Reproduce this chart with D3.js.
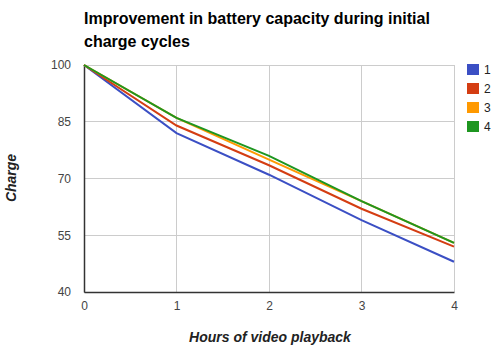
<!DOCTYPE html>
<html><head><meta charset="utf-8">
<script src="https://cdn.jsdelivr.net/npm/d3@7"></script>
<style>body{margin:0;background:#fff;}svg{display:block;font-family:"Liberation Sans",Arial,sans-serif;}</style>
</head><body><svg id="c" width="500" height="354"></svg>
<script>
const hours = [0, 1, 2, 3, 4];
const seriesNames = ["1", "2", "3", "4"];
const series1 = [100, 82, 71, 59, 48];
const series2 = [100, 84, 73.5, 62, 52];
const series3 = [100, 86, 75, 64, 53];
const series4 = [100, 86, 76, 64, 53];
const yTicks = [40, 55, 70, 85, 100];
const colors = ["#3b4fc4", "#d43d12", "#ff9900", "#1e9620"];

const svg = d3.select("#c");
const x = d3.scaleLinear().domain([0, 4]).range([84, 454]);
const y = d3.scaleLinear().domain([40, 100]).range([292, 65]);

// gridlines
svg.append("g").selectAll("line").data(yTicks).join("line")
  .attr("x1", 84).attr("x2", 454).attr("y1", d => y(d)).attr("y2", d => y(d))
  .attr("stroke", "#cccccc").attr("stroke-width", 1).attr("shape-rendering", "crispEdges");
svg.append("g").selectAll("line").data(hours).join("line")
  .attr("x1", d => x(d)).attr("x2", d => x(d)).attr("y1", 65).attr("y2", 292)
  .attr("stroke", "#cccccc").attr("stroke-width", 1).attr("shape-rendering", "crispEdges");

// axes
const yAxis = svg.append("g").attr("transform", "translate(84,0)")
  .call(d3.axisLeft(y).tickValues(yTicks).tickSize(0).tickPadding(13));
yAxis.select(".domain").attr("stroke", "#333").attr("stroke-width", 1.5);
yAxis.selectAll("text").attr("fill", "#444").attr("font-size", 12).attr("font-family", "Liberation Sans, Arial");

const xAxis = svg.append("g").attr("transform", "translate(0,292)")
  .call(d3.axisBottom(x).tickValues(hours).tickFormat(d3.format("d")).tickSize(0).tickPadding(9));
xAxis.select(".domain").attr("stroke", "#333").attr("stroke-width", 1.5);
xAxis.selectAll("text").attr("fill", "#444").attr("font-size", 12).attr("font-family", "Liberation Sans, Arial");

// lines
const data = [series1, series2, series3, series4];
const line = d3.line().x((d, i) => x(hours[i])).y(d => y(d));
svg.append("g").selectAll("path").data(data).join("path")
  .attr("d", line).attr("fill", "none")
  .attr("stroke", (d, i) => colors[i]).attr("stroke-width", 2);

// title
const title = svg.append("text").attr("x", 84).attr("font-size", 16).attr("font-weight", "bold").attr("fill", "#000");
title.append("tspan").attr("x", 84).attr("y", 24).text("Improvement in battery capacity during initial");
title.append("tspan").attr("x", 84).attr("y", 47).text("charge cycles");

// axis titles
svg.append("text").attr("x", 270).attr("y", 342).attr("text-anchor", "middle")
  .attr("font-size", 14).attr("font-weight", "bold").attr("font-style", "italic").attr("fill", "#222")
  .text("Hours of video playback");
svg.append("text").attr("transform", "translate(16,178) rotate(-90)").attr("text-anchor", "middle")
  .attr("font-size", 14).attr("font-weight", "bold").attr("font-style", "italic").attr("fill", "#222")
  .text("Charge");

// legend
const leg = svg.append("g").selectAll("g").data(seriesNames).join("g")
  .attr("transform", (d, i) => `translate(467,${64 + i * 19})`);
leg.append("rect").attr("width", 12).attr("height", 11).attr("fill", (d, i) => colors[i]);
leg.append("text").attr("x", 17).attr("y", 10).attr("font-size", 12).attr("fill", "#222").text(d => d);
</script></body></html>
